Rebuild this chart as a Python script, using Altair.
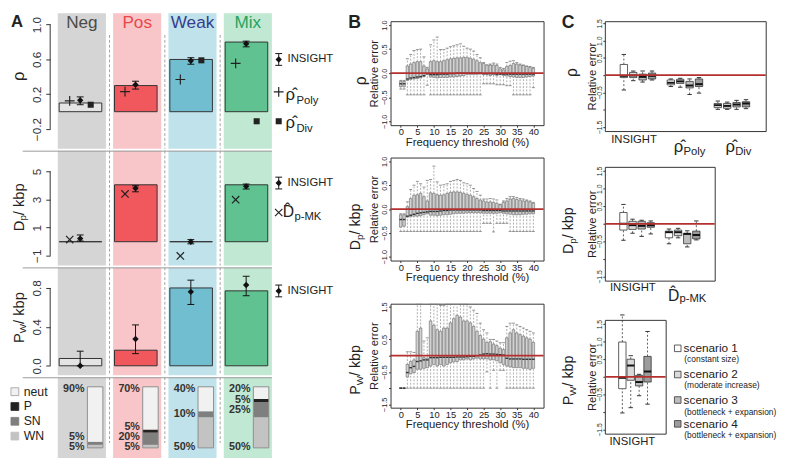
import altair as alt
import pandas as pd

FONT = "Liberation Sans"
INK = "#222222"
HLINE = "M-1,0L1,0"
PLUS = "M-1,0L1,0M0,-1L0,1"
CROSS = "M-1,-1L1,1M-1,1L1,-1"
NB = "\u00a0"
KBP = NB + NB + "/" + NB + "kbp"

# ============================ DATA ============================
# ---- Panel A : four simulated selection scenarios ----
scenarios = ["Neg", "Pos", "Weak", "Mix"]
scen_title_colors = ["#4a4a4a", "#e8474c", "#373c8c", "#27a35e"]
scen_bg_colors = ["#d5d5d5", "#f8c5c8", "#bfe2eb", "#c1e8d2"]
scen_bar_colors = ["#e4e4e4", "#f0585d", "#70bed0", "#5fc290"]

rho_true = [0.10, 0.30, 0.60, 0.80]
rho_insight = [0.13, 0.31, 0.585, 0.78]
rho_insight_lo = [0.08, 0.26, 0.545, 0.745]
rho_insight_hi = [0.17, 0.35, 0.62, 0.81]
rho_poly = [0.125, 0.23, 0.37, 0.555]
rho_div = [0.08, None, 0.59, -0.11]

dp_true = [0.0, 4.05, 0.0, 4.05]
dp_insight = [0.22, 3.80, 0.0, 3.94]
dp_insight_lo = [0.05, 3.55, -0.15, 3.75]
dp_insight_hi = [0.48, 3.98, 0.15, 4.10]
dp_mk = [0.15, 3.40, -1.01, 2.99]

pw_true = [0.075, 0.16, 0.80, 0.77]
pw_insight = [0.0, 0.275, 0.76, 0.83]
pw_insight_lo = [0.0, 0.125, 0.63, 0.72]
pw_insight_hi = [0.15, 0.42, 0.88, 0.92]

comp_types = ["WN", "SN", "P", "neut"]
comp_colors = ["#c3c3c3", "#7f7f7f", "#222222", "#f1f1f1"]
comp_WN = [5, 5, 50, 50]
comp_SN = [5, 20, 10, 25]
comp_P = [0, 5, 0, 5]
comp_neut = [90, 70, 40, 20]

# ---- Panel B : relative error vs frequency threshold ----
freq = list(range(41))
b_rho_lo = [-0.33, -0.33, -0.45, -0.45, -0.45, -0.45, -0.45, -0.45, -0.25, -0.45,
            -0.45, -0.45, -0.45, -0.45, -0.45, -0.45, -0.45, -0.45, -0.45, -0.45,
            -0.45, -0.45, -0.45, -0.45, -0.45, -0.22, -0.22, -0.22, -0.22, -0.24,
            -0.24, -0.24, -0.26, -0.26, -0.45, -0.45, -0.45, -0.45, -0.45, -0.45, -0.30]
b_rho_q1 = [-0.28, -0.28, -0.15, -0.13, -0.12, -0.11, -0.10, -0.07, -0.03, -0.08,
            -0.09, -0.10, -0.09, -0.09, -0.09, -0.08, -0.08, -0.07, -0.06, -0.05,
            -0.03, -0.03, -0.03, -0.03, -0.02, -0.03, -0.03, -0.05, -0.03, -0.05,
            -0.03, -0.05, -0.06, -0.07, -0.08, -0.09, -0.09, -0.09, -0.08, -0.07, -0.06]
b_rho_med = [-0.22, -0.22, -0.12, -0.10, -0.09, -0.08, -0.07, -0.05, -0.01, -0.03,
             -0.03, -0.03, -0.02, -0.02, -0.02, -0.01, -0.01, 0.00, 0.00, 0.00,
             0.00, 0.00, 0.00, 0.00, 0.00, -0.01, -0.01, -0.01, -0.01, -0.02,
             -0.02, -0.02, -0.02, -0.02, -0.02, -0.02, -0.02, -0.02, -0.02, -0.02, -0.02]
b_rho_q3 = [-0.17, -0.17, 0.15, 0.19, 0.22, 0.24, 0.24, 0.15, 0.09, 0.24,
            0.26, 0.24, 0.24, 0.26, 0.28, 0.30, 0.31, 0.32, 0.32, 0.33,
            0.33, 0.31, 0.29, 0.26, 0.22, 0.20, 0.17, 0.17, 0.17, 0.16,
            0.09, 0.07, 0.14, 0.16, 0.20, 0.19, 0.17, 0.16, 0.14, 0.12, 0.10]
b_rho_hi = [-0.15, -0.15, 0.30, 0.39, 0.47, 0.49, 0.50, 0.34, 0.12, 0.59,
            0.69, 0.75, 0.49, 0.49, 0.52, 0.55, 0.57, 0.59, 0.61, 0.56,
            0.52, 0.50, 0.46, 0.39, 0.32, 0.22, 0.17, 0.19, 0.21, 0.19,
            0.12, 0.10, 0.22, 0.25, 0.26, 0.22, 0.19, 0.17, 0.15, 0.14, 0.12]

b_dp_lo = [-0.47, -0.47, -0.47, -0.47, -0.47, -0.47, -0.47, -0.47, -0.47, -0.47,
           -0.47, -0.47, -0.47, -0.47, -0.47, -0.47, -0.47, -0.47, -0.47, -0.47,
           -0.47, -0.47, -0.47, -0.47, -0.47, -0.30, -0.30, -0.30, -0.48, -0.30,
           -0.30, -0.30, -0.30, -0.47, -0.47, -0.47, -0.47, -0.47, -0.47, -0.47, -0.47]
b_dp_q1 = [-0.38, -0.36, -0.17, -0.16, -0.15, -0.15, -0.14, -0.12, -0.10, -0.13,
           -0.13, -0.14, -0.13, -0.12, -0.12, -0.11, -0.10, -0.09, -0.09, -0.09,
           -0.08, -0.08, -0.08, -0.08, -0.08, -0.09, -0.09, -0.09, -0.09, -0.09,
           -0.08, -0.09, -0.10, -0.11, -0.12, -0.12, -0.12, -0.11, -0.11, -0.10, -0.10]
b_dp_med = [-0.22, -0.22, -0.15, -0.13, -0.11, -0.09, -0.08, -0.07, -0.06, -0.05,
            -0.05, -0.05, -0.04, -0.03, -0.03, -0.02, -0.02, -0.02, -0.02, -0.02,
            -0.02, -0.02, -0.02, -0.02, -0.02, -0.03, -0.03, -0.03, -0.03, -0.03,
            -0.03, -0.04, -0.04, -0.04, -0.04, -0.04, -0.04, -0.04, -0.04, -0.04, -0.04]
b_dp_q3 = [-0.12, -0.12, 0.05, 0.22, 0.29, 0.30, 0.33, 0.26, 0.17, 0.34,
           0.33, 0.30, 0.29, 0.30, 0.33, 0.35, 0.36, 0.36, 0.35, 0.33,
           0.31, 0.29, 0.26, 0.22, 0.19, 0.17, 0.15, 0.15, 0.14, 0.12,
           0.09, 0.14, 0.17, 0.21, 0.22, 0.20, 0.19, 0.17, 0.17, 0.15, 0.12]
b_dp_hi = [-0.10, -0.10, 0.15, 0.41, 0.50, 0.58, 0.53, 0.46, 0.60, 0.62,
           0.90, 0.57, 0.50, 0.51, 0.53, 0.58, 0.60, 0.62, 0.60, 0.55,
           0.53, 0.50, 0.43, 0.37, 0.29, 0.21, 0.21, 0.22, 0.21, 0.19,
           0.10, 0.17, 0.22, 0.26, 0.26, 0.24, 0.22, 0.21, 0.19, 0.17, 0.14]

b_pw_lo = [-1.0, -1.0, -1.0, -1.0, -1.0, -1.0, -1.0, -1.0, -1.0, -1.0,
           -1.0, -1.0, -1.0, -1.0, -1.0, -1.0, -1.0, -1.0, -1.0, -1.0,
           -1.0, -1.0, -1.0, -1.0, -1.0, -1.0, -0.50, -1.0, -0.45, -1.0,
           -0.45, -0.45, -1.0, -1.0, -1.0, -1.0, -1.0, -1.0, -1.0, -1.0, -1.0]
b_pw_q1 = [-1.0, -1.0, -0.66, -0.56, -0.52, -0.42, -0.42, -0.39, -0.37, -0.32,
           -0.27, -0.32, -0.27, -0.32, -0.27, -0.22, -0.19, -0.18, -0.13, -0.13,
           -0.10, -0.13, -0.10, -0.08, -0.10, -0.10, -0.10, -0.13, -0.13, -0.16,
           -0.22, -0.27, -0.32, -0.35, -0.37, -0.37, -0.37, -0.39, -0.39, -0.42, -0.39]
b_pw_med = [-1.0, -1.0, -0.52, -0.37, -0.33, -0.18, -0.16, -0.13, -0.13, -0.06,
            -0.06, -0.06, -0.05, -0.05, -0.05, -0.05, -0.05, -0.04, -0.04, -0.04,
            -0.03, -0.02, -0.02, 0.00, 0.02, 0.05, 0.06, 0.05, 0.05, 0.04,
            0.03, 0.02, -0.08, -0.10, -0.10, -0.10, -0.10, -0.11, -0.11, -0.11, -0.11]
b_pw_q3 = [-1.0, -1.0, -0.27, -0.18, -0.13, 0.75, 0.85, -0.06, -0.08, 1.07,
           0.94, 0.80, 0.75, 0.85, 0.85, 1.01, 1.14, 1.24, 1.19, 1.07,
           1.07, 1.01, 0.90, 0.75, 0.62, 0.51, 0.41, 0.43, 0.36, 0.31,
           0.23, 0.19, 0.55, 0.70, 0.80, 0.70, 0.65, 0.60, 0.55, 0.51, 0.41]
b_pw_hi = [-1.0, -1.0, 0.12, 0.12, 0.10, 1.60, 1.60, 0.45, 0.55, 1.60,
           1.60, 1.60, 1.55, 1.55, 1.60, 1.60, 1.60, 1.60, 1.60, 1.60,
           1.60, 1.50, 1.40, 1.30, 1.00, 0.80, 0.70, 0.50, 0.50, 0.45,
           0.40, 0.40, 0.90, 1.00, 1.00, 0.95, 0.90, 0.85, 0.80, 0.75, 0.70]

# ---- Panel C : demographic scenarios (4 per estimator) ----
c_scen_names = ["scenario 1", "scenario 2", "scenario 3", "scenario 4"]
c_scen_notes = ["(constant size)", "(moderate increase)",
                "(bottleneck + expansion)", "(bottleneck + expansion)"]
c_scen_fill = ["#ffffff", "#dadada", "#bdbdbd", "#9c9c9c"]

c_rho_lo = [-0.43, -0.16, -0.20, -0.14, -0.33, -0.35, -0.56, -0.52, -0.99, -0.99, -0.99, -0.97]
c_rho_q1 = [-0.07, -0.07, -0.14, -0.11, -0.28, -0.24, -0.37, -0.33, -0.94, -0.96, -0.92, -0.92]
c_rho_med = [-0.02, -0.01, -0.05, -0.02, -0.22, -0.18, -0.30, -0.26, -0.87, -0.89, -0.85, -0.82]
c_rho_q3 = [0.31, 0.08, 0.03, 0.06, -0.14, -0.12, -0.18, -0.11, -0.82, -0.82, -0.79, -0.77]
c_rho_hi = [0.60, 0.12, 0.12, 0.12, -0.11, -0.09, -0.11, -0.07, -0.75, -0.78, -0.73, -0.71]

c_dp_lo = [-0.47, -0.27, -0.36, -0.29, -0.57, -0.40, -0.66, -0.46]
c_dp_q1 = [-0.18, -0.16, -0.15, -0.10, -0.40, -0.34, -0.57, -0.43]
c_dp_med = [0.00, -0.04, -0.06, -0.04, -0.24, -0.24, -0.29, -0.32]
c_dp_q3 = [0.32, 0.07, 0.07, 0.03, -0.21, -0.18, -0.27, -0.21]
c_dp_hi = [0.55, 0.13, 0.10, 0.08, -0.15, -0.13, -0.20, 0.08]

c_pw_lo = [-1.03, -0.88, -0.54, -0.78]
c_pw_q1 = [-0.34, -0.10, -0.26, -0.15]
c_pw_med = [-0.03, 0.32, -0.15, 0.15]
c_pw_q3 = [0.99, 0.50, 0.04, 0.58]
c_pw_hi = [1.76, 0.60, 0.07, 1.29]

# ============================ HELPERS ============================
one = pd.DataFrame({"k": [0]})
CW = {" ": 0.278, NB: 0.278, "/": 0.278, "k": 0.5, "b": 0.556, "p": 0.556, "D": 0.722,
      "P": 0.667, "W": 0.944, "-": 0.333, "M": 0.833, "K": 0.667, "o": 0.556, "l": 0.222,
      "y": 0.5, "i": 0.222, "v": 0.5, "\u03c1": 0.58, "\u0302": 0.0}


def tw(t, size):
    return sum(CW.get(ch, 0.56) for ch in t) * size


def ptxt(text, x, y, size, align="left", baseline="middle", color=INK, weight="normal",
         angle=None, dx=0, dy=0):
    kw = dict(align=align, baseline=baseline, fontSize=size, color=color, fontWeight=weight,
              dx=dx, dy=dy)
    if angle is not None:
        kw["angle"] = angle
    return alt.Chart(pd.DataFrame({"t": [text]})).mark_text(**kw).encode(
        x=alt.value(x), y=alt.value(y), text="t:N")


def psym(x, y, shape, size, color, filled=True, sw=1.0, stroke=None):
    kw = dict(shape=shape, size=size, filled=filled, color=color, strokeWidth=sw, opacity=1)
    if stroke is not None:
        kw["stroke"] = stroke
    return alt.Chart(one).mark_point(**kw).encode(x=alt.value(x), y=alt.value(y))


def prule(x, y, x2=None, y2=None, color=INK, sw=1.0, dash=None):
    enc = dict(x=alt.value(x), y=alt.value(y))
    if x2 is not None:
        enc["x2"] = alt.value(x2)
    if y2 is not None:
        enc["y2"] = alt.value(y2)
    kw = dict(color=color, strokeWidth=sw)
    if dash:
        kw["strokeDash"] = dash
    return alt.Chart(one).mark_rule(**kw).encode(**enc)


def rot_label(pieces, x, yc, size, sub_size):
    widths = [tw(t, sub_size if s else size) for t, s in pieces]
    start = yc + sum(widths) / 2
    out, off = [], 0
    for (t, s), w in zip(pieces, widths):
        out.append(ptxt(t, x, start, sub_size if s else size, align="left", angle=270,
                        dx=off, dy=4 if s else 0))
        off += w
    return out


def ins_icon(x, y):
    return [prule(x, y - 6, y2=y + 6, color="#111"),
            psym(x, y - 6, HLINE, 49, "#111", filled=False),
            psym(x, y + 6, HLINE, 49, "#111", filled=False),
            psym(x, y, "diamond", 42, "#111"),
            ptxt("INSIGHT", x + 9, y, 11.5)]


# ============================ PANEL A ============================
PX_A = 56.4
A_X0 = -0.5727
WA = 296
TOP = 8          # space kept above the first row of every column
BG_HALF = 0.435
BAR_L, BAR_R = -0.41, 0.36
OFF_L, OFF_INS, OFF_R = -0.22, -0.03, 0.16
COMP_L, COMP_R, LAB_OFF = 0.10, 0.38, 0.05
xsA = alt.Scale(domain=[A_X0, A_X0 + WA / PX_A], nice=False, zero=False)
idx = list(range(len(scenarios)))


def XA(f):
    return alt.X(f, type="quantitative", scale=xsA, axis=None)


def a_backdrop(h, bg_top, dash_top, dash_bot, top_rule):
    d = pd.DataFrame({"l": [i - BG_HALF for i in idx], "r": [i + BG_HALF for i in idx],
                      "bg": scen_bg_colors})
    layers = [alt.Chart(d).mark_rect().encode(x=XA("l"), x2="r", y=alt.value(bg_top),
                                              y2=alt.value(h),
                                              color=alt.Color("bg:N", scale=None))]
    s = pd.DataFrame({"s": [i + 0.5 for i in idx[:-1]]})
    layers.append(alt.Chart(s).mark_rule(color="#8c8c8c", strokeWidth=0.8, strokeDash=[3, 2]).encode(
        x=XA("s"), y=alt.value(dash_top), y2=alt.value(dash_bot)))
    if top_rule:
        right_px = (idx[-1] + BG_HALF - A_X0) * PX_A
        layers.append(prule(-28, 0.5, x2=right_px, color="#9a9a9a", sw=1))
    return layers


def a_main(ydom, yvals, yfmt, true_v, ins, lo, hi, ests):
    ys = alt.Scale(domain=ydom, nice=False, zero=False)
    yax = alt.Axis(values=yvals, format=yfmt, title=None, domain=False, grid=False, tickSize=4.5,
                   tickColor="#333", labelAngle=270, labelAlign="center", labelBaseline="bottom",
                   labelPadding=2, labelFontSize=12, labelColor="#333", labelOverlap=False)

    def YA(f):
        return alt.Y(f, type="quantitative", scale=ys, axis=yax)

    layers = []
    ad = pd.DataFrame({"a": [min(yvals)], "b": [max(yvals)]})
    layers.append(alt.Chart(ad).mark_rule(color="#333", strokeWidth=1).encode(
        x=alt.value(0), y=YA("a"), y2="b"))
    bd = pd.DataFrame({"l": [i + BAR_L for i in idx], "r": [i + BAR_R for i in idx],
                       "z": [0.0] * len(idx), "v": true_v, "fc": scen_bar_colors})
    layers.append(alt.Chart(bd).mark_rect(stroke="#333", strokeWidth=1).encode(
        x=XA("l"), x2="r", y=YA("z"), y2="v", color=alt.Color("fc:N", scale=None)))
    for vals, off, shape, size, filled, sw in ests:
        ed = pd.DataFrame({"x": [i + off for i in idx], "v": vals}).dropna()
        layers.append(alt.Chart(ed).mark_point(shape=shape, size=size, filled=filled, color="#222",
                                               strokeWidth=sw, opacity=1).encode(x=XA("x"), y=YA("v")))
    ex = [i + OFF_INS for i in idx]
    eb = pd.DataFrame({"x": ex, "lo": lo, "hi": hi, "m": ins})
    layers.append(alt.Chart(eb).mark_rule(color="#111", strokeWidth=1).encode(
        x=XA("x"), y=YA("lo"), y2="hi"))
    cap = pd.DataFrame({"x": ex + ex, "v": list(lo) + list(hi)})
    layers.append(alt.Chart(cap).mark_point(shape=HLINE, size=49, filled=False, color="#111",
                                            strokeWidth=1, opacity=1).encode(x=XA("x"), y=YA("v")))
    layers.append(alt.Chart(eb).mark_point(shape="diamond", size=42, filled=True, color="#111",
                                           opacity=1).encode(x=XA("x"), y=YA("m")))
    return layers


H_A = [130, 117, 110, 85]

titles = alt.Chart(pd.DataFrame({"x": idx, "t": scenarios, "c": scen_title_colors})).mark_text(
    fontSize=17.5, baseline="top", align="center").encode(
    x=XA("x"), y=alt.value(-7.5), text="t:N", color=alt.Color("c:N", scale=None))

A1 = alt.layer(
    *a_backdrop(H_A[0], -TOP, 14, H_A[0], False),
    *a_main([-0.4254, 1.0394], [-0.2, 0.2, 0.6, 1.0], ".1f", rho_true, rho_insight,
            rho_insight_lo, rho_insight_hi,
            [(rho_poly, OFF_L, PLUS, 100, False, 1.2), (rho_div, OFF_R, "square", 38, True, 1)]),
    titles,
    ptxt("A", -40, -7.4, 17, baseline="top", weight="bold"),
    *rot_label([("\u03c1", False)], -32, 56, 17, 11),
    *ins_icon(233, 39),
    psym(233, 72, PLUS, 100, "#222", filled=False, sw=1.2),
    ptxt("\u03c1\u0302", 240, 75, 17), ptxt("Poly", 251, 81, 11.5),
    psym(233, 102, "square", 38, "#222"),
    ptxt("\u03c1\u0302", 240, 104, 17), ptxt("Div", 251, 110, 11.5),
).properties(width=WA, height=H_A[0])

A2 = alt.layer(
    *a_backdrop(H_A[1], 0, 0, H_A[1], True),
    *a_main([-1.689, 6.476], [-1, 1, 3, 5], "d", dp_true, dp_insight, dp_insight_lo, dp_insight_hi,
            [(dp_mk, OFF_L, CROSS, 56, False, 1.2)]),
    *rot_label([("D", False), ("p", True), (KBP, False)], -32, 53.5, 15, 10),
    *ins_icon(233, 33),
    psym(233, 63, CROSS, 56, "#222", filled=False, sw=1.2),
    ptxt("D\u0302", 237, 63, 16), ptxt("p-MK", 249, 68, 11.5),
).properties(width=WA, height=H_A[1])

A3 = alt.layer(
    *a_backdrop(H_A[2], 0, 0, H_A[2], True),
    *a_main([-0.0978, 1.011], [0.0, 0.4, 0.8], ".1f", pw_true, pw_insight, pw_insight_lo,
            pw_insight_hi, []),
    *rot_label([("P", False), ("W", True), (KBP, False)], -32, 47, 15, 10),
    *ins_icon(233, 24),
).properties(width=WA, height=H_A[2])

# composition row
ys4 = alt.Scale(domain=[-20.9, 115.6], nice=False, zero=False)


def Y4(f):
    return alt.Y(f, type="quantitative", scale=ys4, axis=None)


seg_rows, lab_rows = [], []
for i in idx:
    vals = [comp_WN[i], comp_SN[i], comp_P[i], comp_neut[i]]
    cum, prev = 0, -100
    for k, v in enumerate(vals):
        if v > 0:
            seg_rows.append(dict(l=i + COMP_L, r=i + COMP_R, y0=cum, y1=cum + v, fc=comp_colors[k]))
            if k == 0:
                ly = 1.5
            elif k == len(vals) - 1:
                ly = 97
            else:
                ly = max(cum + v / 2, prev + 16)
            prev = ly
            lab_rows.append(dict(x=i + LAB_OFF, y=ly, t=f"{v}%"))
        cum += v
seg_df = pd.DataFrame(seg_rows)
lab_df = pd.DataFrame(lab_rows)
out_df = pd.DataFrame({"l": [i + COMP_L for i in idx], "r": [i + COMP_R for i in idx],
                       "a": [0] * len(idx), "b": [100] * len(idx)})

legend_A4 = []
for j, (name, col) in enumerate(zip(["neut", "P", "SN", "WN"],
                                    [comp_colors[3], comp_colors[2], comp_colors[1], comp_colors[0]])):
    yy = 14.7 + 15.1 * j
    legend_A4.append(psym(-36, yy, "square", 64, col, stroke="#9a9a9a" if name == "neut" else col,
                          sw=0.8))
    legend_A4.append(ptxt(name, -27, yy, 12.5))

A4 = alt.layer(
    *a_backdrop(H_A[3], 0, 0, 67, True),
    alt.Chart(seg_df).mark_rect().encode(x=XA("l"), x2="r", y=Y4("y0"), y2="y1",
                                         color=alt.Color("fc:N", scale=None)),
    alt.Chart(out_df).mark_rect(fill="#ffffff", fillOpacity=0, stroke="#8f8f8f", strokeWidth=1).encode(
        x=XA("l"), x2="r", y=Y4("a"), y2="b"),
    alt.Chart(lab_df).mark_text(align="right", baseline="middle", fontSize=11, fontWeight="bold",
                                color="#333").encode(x=XA("x"), y=Y4("y"), text="t:N"),
    *legend_A4,
).properties(width=WA, height=H_A[3])

A = alt.vconcat(A1, A2, A3, A4, spacing=0)

# ============================ PANEL B ============================
WB = 156
xsB = alt.Scale(domain=[-1.6, 41.6], nice=False, zero=False)
FRAME = alt.ViewBackground(stroke="#333333", strokeWidth=1)


def B_row(lo, q1, md, q3, hi, height, ydom, yvals, labelled, label_layers):
    df = pd.DataFrame({"x": freq, "lo": lo, "q1": q1, "md": md, "q3": q3, "hi": hi})
    ys = alt.Scale(domain=ydom, nice=False, zero=False)
    xax = alt.Axis(values=list(range(0, 41, 5)), format="d", title="Frequency threshold (%)",
                   domain=False, grid=False, tickSize=2, tickColor="#333", labelPadding=0,
                   labelFontSize=9.5, labelColor=INK, labelFlush=False, labelOverlap=False,
                   titleFontSize=11.5, titleFontWeight="normal", titleColor=INK, titleY=17.5,
                   titleBaseline="middle")
    yax = alt.Axis(values=yvals, title="Relative error", domain=False, grid=False, tickSize=2,
                   tickColor="#333", labelAngle=270, labelAlign="center", labelBaseline="bottom",
                   labelPadding=0, labelFontSize=7.5, labelColor=INK, labelOverlap=False,
                   labelExpr=f"indexof({labelled}, datum.value) >= 0 ? format(datum.value, '.1f') : ''",
                   titleFontSize=11.5, titleFontWeight="normal", titleColor=INK, titleX=-16,
                   titleY=height / 2, titleAngle=270, titleAlign="center", titleBaseline="middle")
    X = alt.X("x:Q", scale=xsB, axis=xax)

    def YB(f):
        return alt.Y(f, type="quantitative", scale=ys, axis=yax)

    base = alt.Chart(df)
    caps = pd.DataFrame({"x": freq + freq, "v": list(lo) + list(hi)})
    layers = [
        base.mark_rule(color="#8a8a8a", strokeWidth=0.7, strokeDash=[2, 1.5], clip=True).encode(
            x=X, y=YB("q3"), y2="hi"),
        base.mark_rule(color="#8a8a8a", strokeWidth=0.7, strokeDash=[2, 1.5], clip=True).encode(
            x=X, y=YB("lo"), y2="q1"),
        alt.Chart(caps).mark_point(shape=HLINE, size=9, filled=False, color="#777", strokeWidth=0.8,
                                   opacity=1, clip=True).encode(x=X, y=YB("v")),
        base.mark_bar(size=2.6, color="#d3d3d3", stroke="#4d4d4d", strokeWidth=0.5).encode(
            x=X, y=YB("q1"), y2="q3"),
        base.mark_point(shape=HLINE, size=7, filled=False, color="#333", strokeWidth=1.4,
                        opacity=1).encode(x=X, y=YB("md")),
        alt.Chart(pd.DataFrame({"z": [0.0]})).mark_rule(color="#b3302e", strokeWidth=1.8).encode(
            y=YB("z")),
    ]
    return alt.layer(*layers, *label_layers).properties(width=WB, height=height, view=FRAME)


B1 = B_row(b_rho_lo, b_rho_q1, b_rho_med, b_rho_q3, b_rho_hi, 106, [-1.08, 1.08],
           [-1.0, -0.5, 0.0, 0.5, 1.0], [-1.0, -0.5, 0.0, 0.5, 1.0],
           [ptxt("B", -43, -7.5, 18, baseline="top", weight="bold"),
            *rot_label([("\u03c1", False)], -30, 60.7, 16, 10)])
B2 = B_row(b_dp_lo, b_dp_q1, b_dp_med, b_dp_q3, b_dp_hi, 105, [-1.08, 1.08],
           [-1.0, -0.5, 0.0, 0.5, 1.0], [-1.0, -0.5, 0.0, 0.5, 1.0],
           rot_label([("D", False), ("p", True), (KBP, False)], -35.5, 66.7, 14.5, 10))
B3 = B_row(b_pw_lo, b_pw_q1, b_pw_med, b_pw_q3, b_pw_hi, 106, [-1.6, 1.6],
           [-1.5, -1.0, -0.5, 0.0, 0.5, 1.0, 1.5], [-1.5, -0.5, 0.5, 1.5],
           rot_label([("P", False), ("W", True), (KBP, False)], -35.5, 63.5, 14.5, 10))

B = alt.vconcat(alt.vconcat(B1, B2, spacing=7), B3, spacing=17)

# ============================ PANEL C ============================
PX_C = 10.2


def C_row(lo, q1, md, q3, hi, width, height, ydom, cat_labels, extra):
    n = len(lo)
    pos = [(k // 4) * 5 + (k % 4) + 1 for k in range(n)]
    df = pd.DataFrame({"p": pos, "lo": lo, "q1": q1, "md": md, "q3": q3, "hi": hi,
                       "fc": [c_scen_fill[k % 4] for k in range(n)]})
    xs = alt.Scale(domain=[-0.5, -0.5 + width / PX_C], nice=False, zero=False)
    ys = alt.Scale(domain=ydom, nice=False, zero=False)
    yax = alt.Axis(values=[-1.5, -1.0, -0.5, 0.0, 0.5, 1.0, 1.5], title="Relative error",
                   domain=False, grid=False, tickSize=2, tickColor="#333", labelAngle=270,
                   labelAlign="center", labelBaseline="bottom", labelPadding=0, labelFontSize=7,
                   labelColor=INK, labelOverlap=False,
                   labelExpr="indexof([-1.5, -0.5, 0.5, 1, 1.5], datum.value) >= 0 ? format(datum.value, '.1f') : ''",
                   titleFontSize=11.5, titleFontWeight="normal", titleColor=INK, titleX=-12.5,
                   titleY=height / 2, titleAngle=270, titleAlign="center", titleBaseline="middle")
    X = alt.X("p:Q", scale=xs, axis=None)

    def YC(f):
        return alt.Y(f, type="quantitative", scale=ys, axis=yax)

    base = alt.Chart(df)
    caps = pd.DataFrame({"p": pos + pos, "v": list(lo) + list(hi)})
    layers = [
        base.mark_rule(color="#333", strokeWidth=0.8, strokeDash=[2, 2]).encode(x=X, y=YC("q3"), y2="hi"),
        base.mark_rule(color="#333", strokeWidth=0.8, strokeDash=[2, 2]).encode(x=X, y=YC("lo"), y2="q1"),
        alt.Chart(caps).mark_point(shape=HLINE, size=20, filled=False, color="#333", strokeWidth=1,
                                   opacity=1).encode(x=X, y=YC("v")),
        base.mark_bar(size=7.5, stroke="#333", strokeWidth=0.8).encode(
            x=X, y=YC("q1"), y2="q3", color=alt.Color("fc:N", scale=None)),
        base.mark_point(shape=HLINE, size=56, filled=False, color="#111", strokeWidth=2,
                        opacity=1).encode(x=X, y=YC("md")),
        alt.Chart(pd.DataFrame({"z": [0.0]})).mark_rule(color="#b3302e", strokeWidth=1.8).encode(
            y=YC("z")),
    ]
    for main, sub, xc, ym, ysb, msize, ssize in cat_labels:
        mw = tw(main, msize)
        sw_ = tw(sub, ssize) if sub else 0
        start = -(mw + sw_) / 2
        layers.append(alt.Chart(pd.DataFrame({"p": [xc], "t": [main]})).mark_text(
            align="left", baseline="middle", fontSize=msize, color=INK, dx=start).encode(
            x=X, y=alt.value(height + ym), text="t:N"))
        if sub:
            layers.append(alt.Chart(pd.DataFrame({"p": [xc], "t": [sub]})).mark_text(
                align="left", baseline="middle", fontSize=ssize, color=INK, dx=start + mw).encode(
                x=X, y=alt.value(height + ysb), text="t:N"))
    return alt.layer(*layers, *extra).properties(width=width, height=height, view=FRAME)


C1 = C_row(c_rho_lo, c_rho_q1, c_rho_med, c_rho_q3, c_rho_hi, 164, 112, [-1.619, 1.5625],
           [("INSIGHT", None, 2.0, 9, 0, 11.5, 11.5),
            ("\u03c1\u0302", "Poly", 8.0, 16, 21, 17, 11.5),
            ("\u03c1\u0302", "Div", 13.2, 16, 21, 17, 11.5)],
           [ptxt("C", -44, -7.5, 18, baseline="top", weight="bold"),
            *rot_label([("\u03c1", False)], -33, 52.3, 16, 10)])
C2 = C_row(c_dp_lo, c_dp_q1, c_dp_med, c_dp_q3, c_dp_hi, 112, 116, [-1.62, 1.62],
           [("INSIGHT", None, 1.95, 8, 0, 11.5, 11.5),
            ("D\u0302", "p-MK", 8.0, 15.5, 19, 16, 11.5)],
           rot_label([("D", False), ("p", True), (KBP, False)], -36.5, 61, 14.5, 10))

leg_C = []
for j in range(4):
    yy = [29, 55.7, 81.7, 106][j]
    leg_C.append(psym(74.3, yy, "square", 45, c_scen_fill[j], stroke="#333", sw=0.8))
    leg_C.append(ptxt(c_scen_names[j], 80.3, yy, 12))
    leg_C.append(ptxt(c_scen_notes[j], 81, yy + [11, 10.3, 12.3, 11][j], 8.6))

C3 = C_row(c_pw_lo, c_pw_q1, c_pw_med, c_pw_q3, c_pw_hi, 62, 116, [-1.62, 1.62],
           [("INSIGHT", None, 2.1, 9, 0, 11.5, 11.5)],
           [*rot_label([("P", False), ("W", True), (KBP, False)], -36.5, 57.7, 14.5, 10),
            *leg_C])

C = alt.vconcat(alt.vconcat(C1, C2, spacing=7.5), C3, spacing=6.5)

chart = alt.hconcat(alt.hconcat(A, B, spacing=5), C, spacing=15.5).properties(
    padding=0).configure(font=FONT).configure_view(stroke="transparent")

chart.save("out.html", embed_options={"renderer": "svg", "actions": False})
